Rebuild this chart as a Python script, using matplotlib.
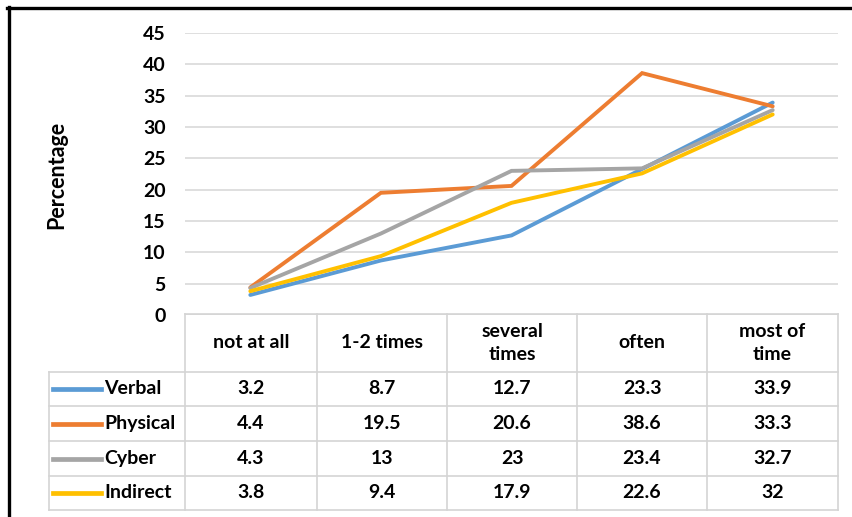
import matplotlib
matplotlib.use("Agg")
import matplotlib.pyplot as plt
from matplotlib.lines import Line2D

categories = ["not at all", "1-2 times", "several\ntimes", "often", "most of\ntime"]
series_names = ["Verbal", "Physical", "Cyber", "Indirect"]
verbal = [3.2, 8.7, 12.7, 23.3, 33.9]
physical = [4.4, 19.5, 20.6, 38.6, 33.3]
cyber = [4.3, 13, 23, 23.4, 32.7]
indirect = [3.8, 9.4, 17.9, 22.6, 32]
y_ticks = [0, 5, 10, 15, 20, 25, 30, 35, 40, 45]
y_label = "Percentage"

series_values = [verbal, physical, cyber, indirect]
colors = ["#5B9BD5", "#ED7D31", "#A5A5A5", "#FFC000"]

W, H = 852, 517
plt.rcParams['font.family'] = ['Lato', 'DejaVu Sans']
fig = plt.figure(figsize=(W / 100, H / 100), dpi=100)

def fx(x):
    return x / W

def fy(y):
    return 1 - y / H

FS = 14

# plot area
left, right, top, bottom = 185, 838, 33, 315
ax = fig.add_axes([fx(left), fy(bottom), fx(right) - fx(left), (bottom - top) / H])
xs = list(range(len(categories)))
for vals, c in zip(series_values, colors):
    ax.plot(xs, vals, color=c, lw=2.8, solid_capstyle='round', solid_joinstyle='miter')
ax.set_xlim(-0.5, len(categories) - 0.5)
ax.set_ylim(0, 45)
ax.set_yticks(y_ticks)
ax.set_yticklabels([str(t) for t in y_ticks], fontsize=FS, fontweight='bold')
ax.tick_params(axis='y', length=0, pad=14)
ax.tick_params(axis='x', length=0, labelbottom=False)
for s in ax.spines.values():
    s.set_visible(False)
ax.grid(axis='y', color='#D9D9D9', lw=1.2)
ax.set_axisbelow(True)
fig.text(fx(57), fy(175), y_label, rotation=90, ha='center', va='center',
         fontsize=15.5, fontweight='bold')

# data table
gc = '#D4D4D4'
col_edges = [185, 317, 447, 577, 707, 838]
row_edges = [314, 372, 406, 441, 476, 510]
legend_left = 49

def hline(y, x0, x1, color=gc, lw=1.2):
    fig.add_artist(Line2D([fx(x0), fx(x1)], [fy(y), fy(y)], color=color, lw=lw,
                          transform=fig.transFigure))

def vline(x, y0, y1, color=gc, lw=1.2):
    fig.add_artist(Line2D([fx(x), fx(x)], [fy(y0), fy(y1)], color=color, lw=lw,
                          transform=fig.transFigure))

hline(row_edges[0], col_edges[0], col_edges[-1])
for y in row_edges[1:]:
    hline(y, legend_left, col_edges[-1])
for x in col_edges:
    vline(x, row_edges[0], row_edges[-1])
vline(legend_left, row_edges[1], row_edges[-1])

for i, cat in enumerate(categories):
    cx = (col_edges[i] + col_edges[i + 1]) / 2
    cy = (row_edges[0] + row_edges[1]) / 2
    fig.text(fx(cx), fy(cy), cat, ha='center', va='center', fontsize=FS,
             fontweight='bold', linespacing=1.45)

for r, (name, vals, c) in enumerate(zip(series_names, series_values, colors)):
    cy = (row_edges[r + 1] + row_edges[r + 2]) / 2
    fig.add_artist(Line2D([fx(53), fx(101)], [fy(cy), fy(cy)], color=c, lw=3.4,
                          transform=fig.transFigure))
    fig.text(fx(104), fy(cy), name, ha='left', va='center', fontsize=FS,
             fontweight='bold')
    for i, v in enumerate(vals):
        cx = (col_edges[i] + col_edges[i + 1]) / 2
        fig.text(fx(cx), fy(cy), f"{v:g}", ha='center', va='center', fontsize=FS,
                 fontweight='bold')

# outer frame (top and left edges)
hline(7.5, 7, 852, color='black', lw=2.4)
vline(8.5, 6.5, 517, color='black', lw=2.4)

fig.savefig("out.png", dpi=100)
